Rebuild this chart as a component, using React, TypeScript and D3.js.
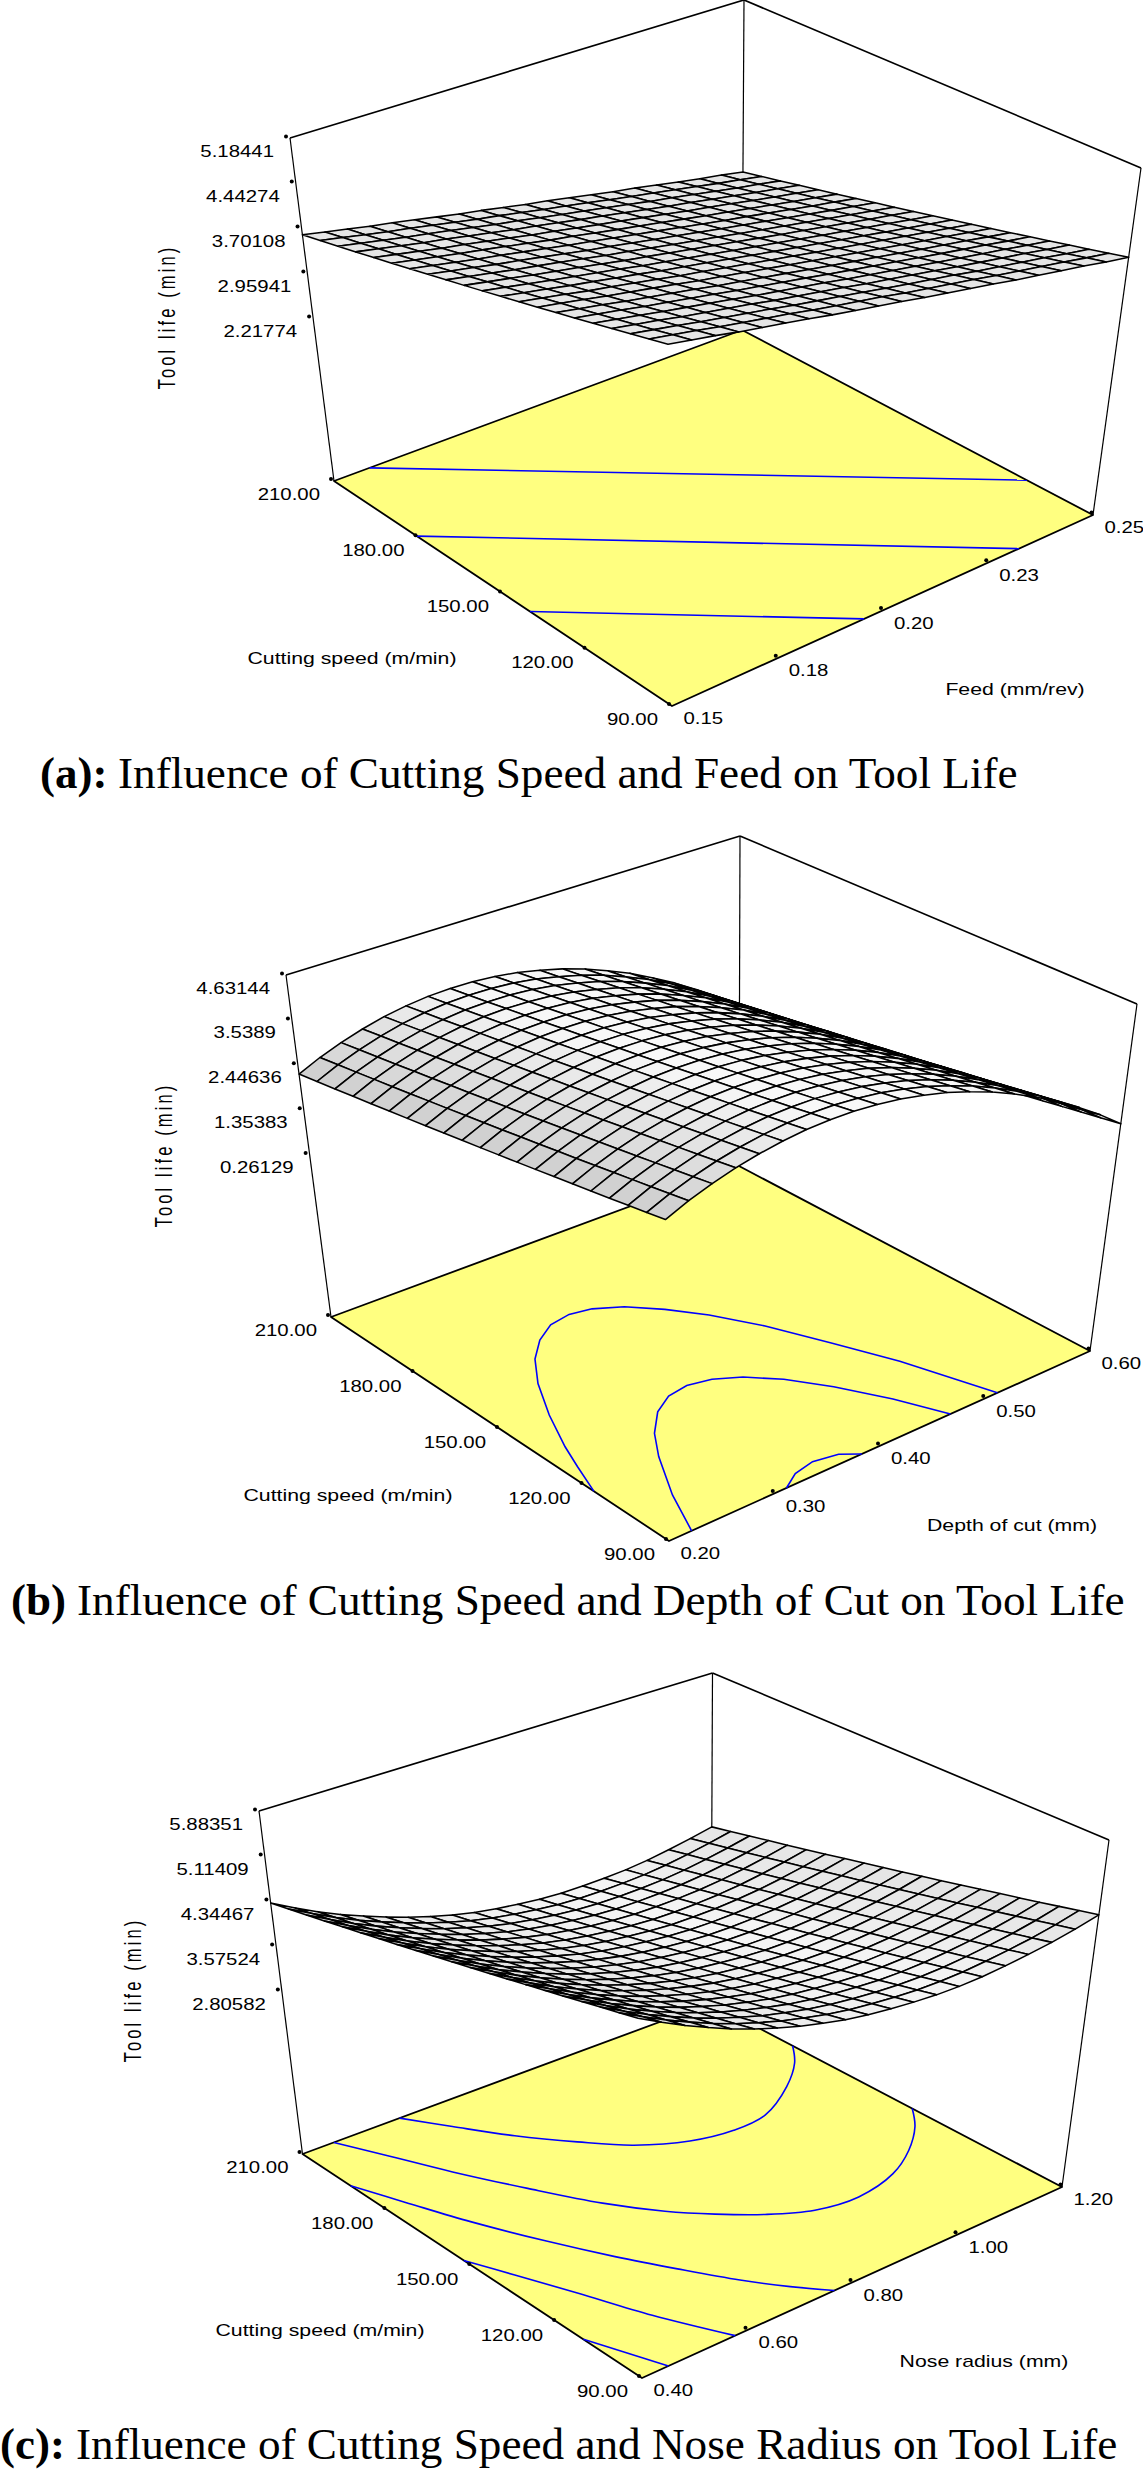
import React from "react";
import * as d3 from "d3";

type Pt = [number, number];

// ---------- shared data ----------
const speedTicks = [210, 180, 150, 120, 90];
const speedDomain: Pt = [90, 210];
const meshSpeeds = [90, 96, 102, 108, 114, 120, 126, 132, 138, 144, 150, 156, 162, 168, 174, 180, 186, 192, 198, 204, 210];

// ---------- panel (a) ----------
const lifeTicksA = [5.18441, 4.44274, 3.70108, 2.95941, 2.21774];
const feedTicks = [0.15, 0.175, 0.2, 0.225, 0.25];
const feedTickLabels = ["0.15", "0.18", "0.20", "0.23", "0.25"];
const lifeLowSpeedA = [5.18, 5.11, 5.04, 4.96, 4.89, 4.82, 4.75, 4.67, 4.6, 4.53, 4.46, 4.38, 4.31, 4.24, 4.17, 4.09, 4.02, 3.95, 3.88, 3.8, 3.73];
const lifeHighSpeedA = [3.59, 3.52, 3.45, 3.38, 3.32, 3.25, 3.18, 3.11, 3.05, 2.98, 2.91, 2.85, 2.78, 2.71, 2.64, 2.58, 2.51, 2.44, 2.37, 2.31, 2.24];
const contoursA: Pt[][] = [
  [[210, 0.1587], [112.6, 0.25]],
  [[180.6, 0.15], [90, 0.2324]],
  [[140.4, 0.15], [90, 0.1956]],
];

// ---------- panel (b) ----------
const lifeTicksB = [4.63144, 3.5389, 2.44636, 1.35383, 0.26129];
const depthTicks = [0.2, 0.3, 0.4, 0.5, 0.6];
const depthTickLabels = ["0.20", "0.30", "0.40", "0.50", "0.60"];
const lifeLowSpeedB = [3.76, 3.99, 4.18, 4.34, 4.46, 4.55, 4.61, 4.63, 4.62, 4.57, 4.49, 4.37, 4.22, 4.03, 3.81, 3.55, 3.26, 2.94, 2.58, 2.19, 1.76];
const lifeHighSpeedB = [2.22, 2.45, 2.64, 2.8, 2.93, 3.02, 3.08, 3.1, 3.09, 3.05, 2.97, 2.85, 2.71, 2.53, 2.31, 2.07, 1.78, 1.47, 1.12, 0.73, 0.31];
const contoursB: Pt[][] = [
  [[116.7, 0.2], [126.9, 0.212], [135.2, 0.2225], [147.9, 0.2418], [160, 0.264], [168.7, 0.285], [174.6, 0.306], [178.4, 0.327], [179.5, 0.348], [178.3, 0.367], [174.6, 0.388], [168, 0.409], [159.8, 0.429], [147.9, 0.45], [132.5, 0.47], [115.7, 0.49], [90, 0.512]],
  [[90, 0.2215], [104.3, 0.2417], [118.8, 0.2678], [127.1, 0.2863], [133.8, 0.3077], [137.6, 0.3286], [138.6, 0.3488], [137.1, 0.3689], [133.4, 0.3886], [126.7, 0.4093], [116.8, 0.4298], [103.8, 0.4506], [90, 0.4674]],
  [[90, 0.3116], [93.4, 0.3292], [94.8, 0.3494], [93.4, 0.3704], [90, 0.3832]],
];

// ---------- panel (c) ----------
const lifeTicksC = [5.88351, 5.11409, 4.34467, 3.57524, 2.80582];
const noseTicks = [0.4, 0.6, 0.8, 1.0, 1.2];
const noseTickLabels = ["0.40", "0.60", "0.80", "1.00", "1.20"];
const lifeLowSpeedC = [5.88, 5.67, 5.47, 5.29, 5.12, 4.97, 4.84, 4.72, 4.62, 4.53, 4.46, 4.41, 4.37, 4.34, 4.33, 4.34, 4.37, 4.41, 4.46, 4.53, 4.62];
const lifeHighSpeedC = [4.31, 4.11, 3.92, 3.75, 3.6, 3.46, 3.33, 3.22, 3.12, 3.04, 2.98, 2.93, 2.89, 2.87, 2.87, 2.88, 2.9, 2.94, 3.0, 3.07, 3.15];
const contoursC: Pt[][] = [
  [[182.1, 1.2], [175.4, 1.1658], [167.9, 1.108], [160.7, 1.0256], [159.8, 0.9598], [162.3, 0.8889], [168.8, 0.8163], [177.8, 0.7571], [188.5, 0.6951], [200.1, 0.6382], [210, 0.59]],
  [[141.2, 1.2], [134.2, 1.1658], [126.7, 1.1117], [120.9, 1.0492], [118, 0.9673], [120, 0.8943], [125.9, 0.8314], [133.3, 0.7765], [141.5, 0.7252], [153.1, 0.6687], [168.5, 0.609], [184.3, 0.5507], [198, 0.5042], [210, 0.4614]],
  [[193, 0.4], [179.4, 0.4383], [164.8, 0.4795], [148.1, 0.5327], [133.3, 0.5838], [120.3, 0.6325], [107.5, 0.6821], [97.9, 0.7256], [90, 0.7666]],
  [[153, 0.4], [141.2, 0.434], [126.6, 0.4748], [108.7, 0.5208], [90, 0.5775]],
  [[110.7, 0.4], [90, 0.4503]],
];

// ---------- view geometry of each box (front, left, right, back corners) ----------
const viewA = {
  floor: { F: [672, 706], L: [334, 481], R: [1093, 515], B: [742, 330] },
  top: { F: [668, 344], L: [290, 138], R: [1141, 168], B: [744, 0] },
};
const viewB = {
  floor: { F: [669, 1541], L: [331, 1317], R: [1090, 1351], B: [739, 1166] },
  top: { F: [665, 1182], L: [286, 975], R: [1137, 1004], B: [740, 836] },
};
const viewC = {
  floor: { F: [642, 2378], L: [302.5, 2154], R: [1062, 2187], B: [711, 2003] },
  top: { F: [638, 2018], L: [259, 1811], R: [1109, 1840], B: [712.5, 1673] },
};

const panels = [
  {
    view: viewA, lifeTicks: lifeTicksA, factorTicks: feedTicks, factorLabels: feedTickLabels,
    low: lifeLowSpeedA, high: lifeHighSpeedA, contours: contoursA, curve: d3.curveLinear,
    factorTitle: "Feed (mm/rev)", factorTitlePos: [1015, 695], speedTitlePos: [352, 664],
    yTitlePos: [175, 317],
    caption: "Influence of Cutting Speed and Feed on Tool Life", tag: "(a):",
    tagX: 40, capX: 118, capY: 788, shade: [230, 0, 0],
  },
  {
    view: viewB, lifeTicks: lifeTicksB, factorTicks: depthTicks, factorLabels: depthTickLabels,
    low: lifeLowSpeedB, high: lifeHighSpeedB, contours: contoursB, curve: d3.curveLinear,
    factorTitle: "Depth of cut (mm)", factorTitlePos: [1012, 1531], speedTitlePos: [348, 1501],
    yTitlePos: [172, 1155],
    caption: "Influence of Cutting Speed and Depth of Cut on Tool Life", tag: "(b)",
    tagX: 11, capX: 77, capY: 1615, shade: [248, 8.5, 0.5],
  },
  {
    view: viewC, lifeTicks: lifeTicksC, factorTicks: noseTicks, factorLabels: noseTickLabels,
    low: lifeLowSpeedC, high: lifeHighSpeedC, contours: contoursC, curve: d3.curveCatmullRom,
    factorTitle: "Nose radius (mm)", factorTitlePos: [984, 2367], speedTitlePos: [320, 2336],
    yTitlePos: [141, 1990],
    caption: "Influence of Cutting Speed and Nose Radius on Tool Life", tag: "(c):",
    tagX: 0, capX: 76, capY: 2459, shade: [246, 10, 5],
  },
];

const bilinear = (q: any, u: number, v: number): Pt => {
  const f = (k: number) =>
    q.F[k] + u * (q.L[k] - q.F[k]) + v * (q.R[k] - q.F[k]) + u * v * (q.B[k] - q.L[k] - q.R[k] + q.F[k]);
  return [f(0), f(1)];
};

const SANS = "'Liberation Sans', Arial, sans-serif";
const SERIF = "'Liberation Serif', 'Times New Roman', serif";

function Label({ x, y, text, anchor = "middle", sx = 1.2 }: any) {
  return (
    <text transform={`translate(${x},${y}) scale(${sx},1)`} fontFamily={SANS} fontSize={17} textAnchor={anchor} fill="#000">
      {text}
    </text>
  );
}

function Panel({ p }: { p: (typeof panels)[number] }) {
  const { floor, top } = p.view;
  const uScale = d3.scaleLinear().domain(speedDomain).range([0, 1]);
  const vScale = d3.scaleLinear().domain(d3.extent(p.factorTicks) as Pt).range([0, 1]);
  const tScale = d3.scaleLinear().domain(d3.extent(p.lifeTicks) as Pt).range([0.475, 1]);

  const at3d = (u: number, v: number, t: number): Pt => {
    const a = bilinear(floor, u, v);
    const b = bilinear(top, u, v);
    return [a[0] + (b[0] - a[0]) * t, a[1] + (b[1] - a[1]) * t];
  };
  const line = d3.line<Pt>();
  const contourLine = d3.line<Pt>().curve(p.curve as any);
  const seg = (a: any, b: any, w: number, k: number) => (
    <line key={k} x1={a[0]} y1={a[1]} x2={b[0]} y2={b[1]} stroke="#000" strokeWidth={w} />
  );

  const n = meshSpeeds.length - 1;
  const m = p.low.length - 1;
  const life = (i: number, j: number) => {
    const u = uScale(meshSpeeds[i]);
    return p.low[j] + u * (p.high[j] - p.low[j]);
  };
  const node = (i: number, j: number) => at3d(uScale(meshSpeeds[i]), j / m, tScale(life(i, j)));

  const cells: any[] = [];
  for (let i = n - 1; i >= 0; i--) {
    for (let j = m - 1; j >= 0; j--) {
      const pts = [node(i, j), node(i + 1, j), node(i + 1, j + 1), node(i, j + 1)];
      const slope = (life(i, j + 1) - life(i, j)) * m;
      const [base, kPos, kNeg] = p.shade;
      const g = Math.round(base - (slope > 0 ? kPos * slope : -kNeg * slope));
      cells.push(
        <path key={`${i}-${j}`} d={line(pts) + "Z"} fill={d3.rgb(g, g, g).formatHex()} stroke="#000" strokeWidth={1.55} strokeLinejoin="round" />
      );
    }
  }

  const floorPath = line([floor.F, floor.L, floor.B, floor.R] as Pt[]) + "Z";

  return (
    <g>
      {/* box */}
      {seg(top.L, top.B, 1.7, 1)}
      {seg(top.B, top.R, 1.7, 2)}
      {seg(floor.L, top.L, 1.2, 3)}
      {seg(floor.R, top.R, 1.2, 4)}
      {seg(floor.B, top.B, 1.2, 5)}
      {/* floor */}
      <path d={floorPath} fill="#ffff80" stroke="#000" strokeWidth={1.8} strokeLinejoin="round" />
      {p.contours.map((c, k) => (
        <path
          key={k}
          d={contourLine(c.map(([s, f]) => bilinear(floor, uScale(s), vScale(f)))) as string}
          fill="none"
          stroke="#0000ff"
          strokeWidth={1.6}
        />
      ))}
      {/* mesh */}
      {cells}
      {/* life ticks */}
      {p.lifeTicks.map((z, k) => {
        const [x, y] = at3d(1, 0, tScale(z));
        return (
          <g key={k}>
            <circle cx={x - 4} cy={y - 1.5} r={2} fill="#000" />
            <Label x={x - 16} y={y + 18.5} text={String(z)} anchor="end" />
          </g>
        );
      })}
      {/* speed ticks */}
      {speedTicks.map((s, k) => {
        const [x, y] = bilinear(floor, uScale(s), 0);
        return (
          <g key={k}>
            <circle cx={x - 3} cy={y - 2} r={2} fill="#000" />
            <Label x={x - 14} y={y + 18.5} text={s.toFixed(2)} anchor="end" />
          </g>
        );
      })}
      {/* factor ticks */}
      {p.factorTicks.map((f, k) => {
        const [x, y] = bilinear(floor, 0, vScale(f));
        return (
          <g key={k}>
            {k > 0 && <circle cx={x - 1.5} cy={y - 2.5} r={2} fill="#000" />}
            <Label x={x + 11.5} y={y + 18} text={p.factorLabels[k]} anchor="start" />
          </g>
        );
      })}
      <Label x={p.speedTitlePos[0]} y={p.speedTitlePos[1]} text="Cutting speed (m/min)" sx={1.25} />
      <Label x={p.factorTitlePos[0]} y={p.factorTitlePos[1]} text={p.factorTitle} sx={1.25} />
      <text
        transform={`translate(${p.yTitlePos[0]},${p.yTitlePos[1]}) rotate(-90) scale(1,1.4)`}
        fontFamily={SANS}
        fontSize={16.5}
        letterSpacing={3.1}
        textAnchor="middle"
        fill="#000"
      >
        Tool life (min)
      </text>
      {/* caption */}
      <text x={p.tagX} y={p.capY} fontFamily={SERIF} fontSize={45} fontWeight="bold" fill="#000">
        {p.tag}
      </text>
      <text x={p.capX} y={p.capY} fontFamily={SERIF} fontSize={45.2} fill="#000">
        {p.caption}
      </text>
    </g>
  );
}

export default function App() {
  return (
    <svg width={1143} height={2469} viewBox="0 0 1143 2469" style={{ position: "absolute", left: 0, top: 0, display: "block", background: "#fff" }}>
      {panels.map((p, i) => (
        <Panel key={i} p={p} />
      ))}
    </svg>
  );
}
